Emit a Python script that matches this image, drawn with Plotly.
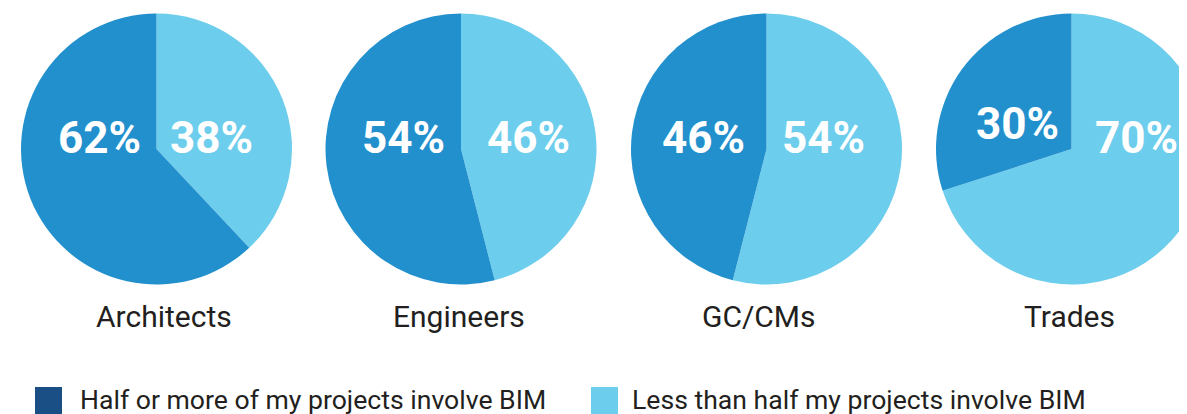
import plotly.graph_objects as go

# ---- data ----
categories = ["Architects", "Engineers", "GC/CMs", "Trades"]
half_or_more = [62, 54, 46, 30]
less_than_half = [38, 46, 54, 70]
series_names = ["Half or more of my projects involve BIM",
                "Less than half my projects involve BIM"]

# ---- layout constants (pixels in the window, y measured from top) ----
PAGE = 8            # default body margin of the html page
W, H = 1210, 414
pie_cx = [156.5, 461, 766.5, 1071.5]
pie_cy = 149
pie_r = 135.5
cat_label_x = [163.5, 459, 759, 1069]
cat_label_y = 316
dark_lbl_x = [99, 403, 703, 1017]
dark_lbl_y = [138, 138, 138, 124]
light_lbl_x = [212, 528, 823, 1136]
light_lbl_y = [138, 138, 138, 138]
legend_sq_x = [35, 591]
legend_txt_x = [78, 630]
legend_y_top = 387

DARK = "#2390CE"
LIGHT = "#6DCDEC"
NAVY = "#1A4F85"
TEXT = "#231F20"
FONT = "Roboto"


def px(x):
    return (x - PAGE) / W


def py(y):
    return (H - (y - PAGE)) / H


fig = go.Figure()
for i, cat in enumerate(categories):
    fig.add_trace(go.Pie(
        labels=[series_names[1], series_names[0]],
        values=[less_than_half[i], half_or_more[i]],
        marker=dict(colors=[LIGHT, DARK], line=dict(width=0)),
        sort=False, direction="counterclockwise", rotation=0,
        textinfo="none", showlegend=False, name=cat,
        hovertemplate=cat + "<br>%{label}: %{value}%<extra></extra>",
        domain=dict(x=[px(pie_cx[i] - pie_r), px(pie_cx[i] + pie_r)],
                    y=[py(pie_cy + pie_r), py(pie_cy - pie_r)]),
    ))

annotations = []
shapes = []
for i, cat in enumerate(categories):
    annotations.append(dict(
        text=cat, x=px(cat_label_x[i]), y=py(cat_label_y),
        xref="paper", yref="paper", xanchor="center", yanchor="middle",
        showarrow=False, font=dict(family=FONT, size=30, color=TEXT)))
    annotations.append(dict(
        text=f"{half_or_more[i]}%", x=px(dark_lbl_x[i]), y=py(dark_lbl_y[i]),
        xref="paper", yref="paper", xanchor="center", yanchor="middle",
        showarrow=False,
        font=dict(family=FONT, size=44, color="white", weight="bold")))
    annotations.append(dict(
        text=f"{less_than_half[i]}%", x=px(light_lbl_x[i]), y=py(light_lbl_y[i]),
        xref="paper", yref="paper", xanchor="center", yanchor="middle",
        showarrow=False,
        font=dict(family=FONT, size=44, color="white", weight="bold")))

for j, (name, col) in enumerate(zip(series_names, [NAVY, LIGHT])):
    shapes.append(dict(
        type="rect", xref="paper", yref="paper",
        x0=px(legend_sq_x[j]), x1=px(legend_sq_x[j] + 27),
        y0=py(legend_y_top + 27), y1=py(legend_y_top),
        fillcolor=col, line=dict(width=0)))
    annotations.append(dict(
        text=name, x=px(legend_txt_x[j]), y=py(legend_y_top + 12),
        xref="paper", yref="paper", xanchor="left", yanchor="middle",
        showarrow=False, font=dict(family=FONT, size=26.6, color=TEXT)))

fig.update_layout(
    width=W, height=H, autosize=False,
    margin=dict(l=0, r=0, t=0, b=0),
    paper_bgcolor="white", plot_bgcolor="white",
    annotations=annotations, shapes=shapes,
    showlegend=False,
)

fig.write_html("out.html")
